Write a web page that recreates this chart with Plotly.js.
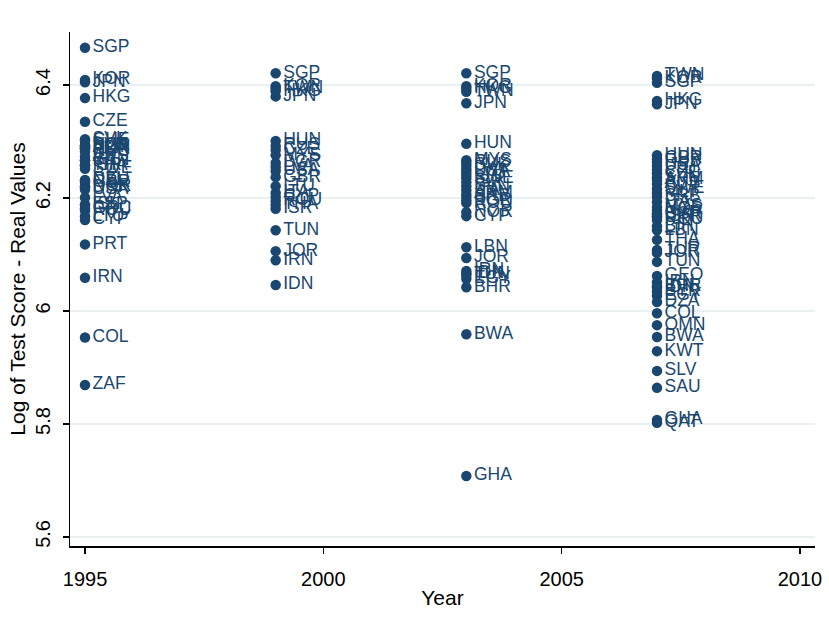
<!DOCTYPE html>
<html>
<head>
<meta charset="utf-8">
<script src="https://cdn.plot.ly/plotly-3.0.1.min.js"></script>
<style>html,body{margin:0;padding:0;background:#fff;}#chart{width:829px;height:628px;}</style>
</head>
<body>
<div id="chart"></div>
<script>
// ---- data ----
var codes1995 = ["SGP","KOR","JPN","HKG","CZE","SVK","CHE","NLD","SVN","BGR","AUT","FRA","HUN","RUS","AUS","IRL","CAN","THA","ISR","SWE","DEU","NZL","GBR","NOR","DNK","USA","LVA","ESP","ISL","GRC","ROU","LTU","CYP","PRT","IRN","COL","ZAF"];
var scores1995 = [6.466,6.409,6.405,6.377,6.335,6.304,6.301,6.293,6.293,6.292,6.290,6.288,6.286,6.282,6.273,6.267,6.267,6.258,6.258,6.252,6.232,6.231,6.227,6.221,6.219,6.215,6.201,6.188,6.188,6.182,6.178,6.168,6.161,6.118,6.059,5.953,5.869];

var codes1999 = ["SGP","KOR","TWN","HKG","JPN","HUN","RUS","CZE","MYS","BGR","LVA","USA","GBR","LTU","ITA","CYP","ROU","THA","ISR","TUN","JOR","IRN","IDN"];
var scores1999 = [6.421,6.398,6.394,6.389,6.380,6.301,6.292,6.285,6.276,6.262,6.255,6.248,6.237,6.221,6.209,6.202,6.195,6.188,6.181,6.143,6.106,6.090,6.046];

var codes2003 = ["SGP","KOR","HKG","TWN","JPN","HUN","MYS","RUS","SVK","LVA","USA","LTU","SWE","ISR","SVN","ITA","ARM","SRB","BGR","ROU","NOR","CYP","LBN","JOR","IRN","IDN","TUN","EGY","BHR","BWA","GHA"];
var scores2003 = [6.421,6.398,6.393,6.388,6.368,6.296,6.267,6.262,6.257,6.251,6.246,6.241,6.235,6.228,6.221,6.214,6.207,6.202,6.196,6.191,6.175,6.168,6.113,6.094,6.071,6.067,6.064,6.057,6.042,5.959,5.708];

var codes2007 = ["TWN","KOR","SGP","HKG","JPN","HUN","GBR","RUS","USA","LTU","CZE","SVN","ARM","AUS","SWE","MLT","SRB","ITA","MYS","NOR","CYP","BGR","ISR","UKR","ROU","BIH","LBN","THA","TUR","JOR","TUN","GEO","IRN","BHR","IDN","SYR","EGY","DZA","COL","OMN","BWA","KWT","SLV","SAU","GHA","QAT"];
var scores2007 = [6.416,6.412,6.404,6.372,6.366,6.276,6.269,6.264,6.257,6.250,6.244,6.237,6.232,6.225,6.216,6.209,6.202,6.193,6.184,6.179,6.173,6.170,6.168,6.165,6.161,6.150,6.143,6.126,6.108,6.103,6.087,6.062,6.051,6.044,6.041,6.034,6.027,6.016,5.996,5.975,5.954,5.929,5.894,5.864,5.807,5.802];

var yearTicks = [1995, 2000, 2005, 2010];
var scoreTicks = [5.6, 5.8, 6, 6.2, 6.4];
var scoreTickText = ["5.6", "5.8", "6", "6.2", "6.4"];

// ---- build ----
var navy = "#1a476f";
var fnt = "Liberation Sans, Arial, Helvetica, sans-serif";
function yr(arr, y){ return arr.map(function(){ return y; }); }
var xs = [].concat(yr(codes1995,1995), yr(codes1999,1999), yr(codes2003,2003), yr(codes2007,2007));
var ys = [].concat(scores1995, scores1999, scores2003, scores2007);
var tx = [].concat(codes1995, codes1999, codes2003, codes2007);

var trace = {
  x: xs, y: ys, text: tx,
  type: "scatter", mode: "markers+text",
  textposition: "middle right",
  textfont: {family: fnt, size: 17.5, color: navy},
  marker: {color: navy, size: 10.5, line: {width: 0}},
  cliponaxis: false,
  hoverinfo: "skip"
};

var layout = {
  width: 829, height: 628,
  margin: {l: 70, r: 14, t: 32, b: 82},
  paper_bgcolor: "#ffffff", plot_bgcolor: "#ffffff",
  showlegend: false,
  font: {family: fnt, size: 16, color: "#000"},
  xaxis: {
    range: [1994.685, 2010.315],
    tickvals: yearTicks, ticktext: yearTicks.map(String),
    showgrid: false, zeroline: false,
    showline: true, linecolor: "#000", linewidth: 1.5,
    ticks: "outside", ticklen: 6, tickwidth: 1.5, tickcolor: "#000",
    ticklabelstandoff: 8,
    tickfont: {family: fnt, size: 20, color: "#000"},
    title: {text: "Year", font: {family: fnt, size: 21, color: "#000"}, standoff: 2}
  },
  yaxis: {
    range: [5.584, 6.494],
    tickvals: scoreTicks, ticktext: scoreTickText,
    tickangle: -90,
    showgrid: true, gridcolor: "#e8f0f2", gridwidth: 2,
    zeroline: false,
    showline: true, linecolor: "#000", linewidth: 1.5,
    ticks: "outside", ticklen: 6, tickwidth: 1.5, tickcolor: "#000",
    ticklabelstandoff: 5,
    tickfont: {family: fnt, size: 20, color: "#000"},
    title: {text: "Log of Test Score - Real Values", font: {family: fnt, size: 21, color: "#000"}, standoff: 0}
  }
};

Plotly.newPlot("chart", [trace], layout, {staticPlot: true, displayModeBar: false});
</script>
</body>
</html>
